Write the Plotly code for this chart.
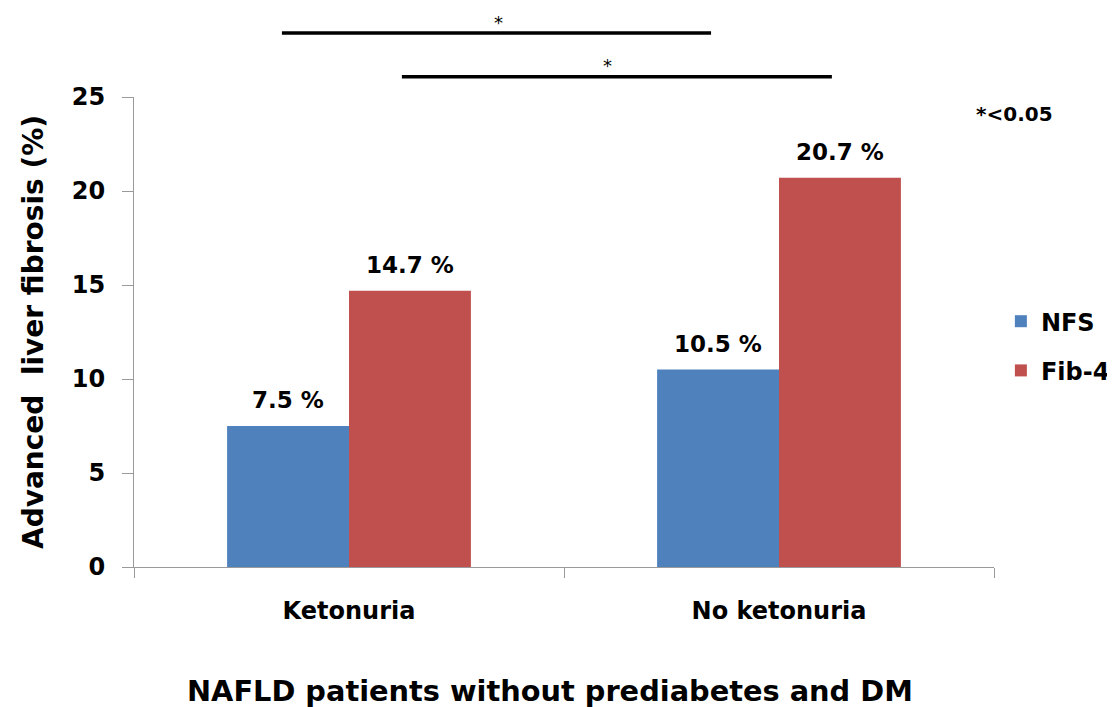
import plotly.graph_objects as go

categories = ["Ketonuria", "No ketonuria"]
nfs_values = [7.5, 10.5]
fib4_values = [14.7, 20.7]
series_names = ["NFS", "Fib-4"]
y_ticks = [0, 5, 10, 15, 20, 25]
x_title = "NAFLD patients without prediabetes and DM"
y_title = "Advanced\u00a0 liver fibrosis (%)"

FONT = "DejaVu Sans"
BLUE = "#4F81BD"
RED = "#C0504D"
AXIS = "#9a9a9a"
BARGAP = 0.433
half = (1 - BARGAP) / 2  # width of one bar in category units
offsets = [-half / 2, half / 2]

fig = go.Figure()
for i, (name, vals, col) in enumerate([(series_names[0], nfs_values, BLUE),
                                        (series_names[1], fib4_values, RED)]):
    fig.add_trace(go.Bar(x=categories, y=vals, name=name, legendgroup=f"g{i}",
                         marker=dict(color=col, line=dict(width=0))))

# value labels above bars
for si, vals in enumerate([nfs_values, fib4_values]):
    for ci, v in enumerate(vals):
        fig.add_annotation(x=ci + offsets[si], y=v, xref="x", yref="y", text=f"<b>{v} %</b>",
                           showarrow=False, yanchor="bottom", yshift=11,
                           font=dict(family=FONT, size=23, color="black"))

# significance bars (in category units): x0, x1, line y, star x, star y
sig_lines = [(-0.156, 0.842, 1.136, 0.347, 1.186), (0.123, 1.123, 1.043, 0.60, 1.093)]
for x0, x1, yl, xs, ys in sig_lines:
    fig.add_shape(type="line", xref="x", yref="paper", x0=x0, x1=x1, y0=yl, y1=yl,
                  line=dict(color="black", width=3.5))
    fig.add_annotation(x=xs, y=ys, xref="x", yref="paper", text="*", showarrow=False,
                       font=dict(family=FONT, size=18, color="black"))

fig.add_annotation(x=0.977, y=0.964, xref="paper", yref="paper", text="<b>*<0.05</b>",
                   showarrow=False, xanchor="left", yanchor="middle",
                   font=dict(family=FONT, size=20, color="black"))

# x-axis title (placed as in the reference, slightly left of the axis centre)
fig.add_annotation(x=0.484, y=-0.263, xref="paper", yref="paper", text=f"<b>{x_title}</b>",
                   showarrow=False, xanchor="center", yanchor="middle",
                   font=dict(family=FONT, size=28.8, color="black"))

fig.update_layout(
    width=1115, height=707,
    margin=dict(l=126, r=129, t=89, b=148, autoexpand=False),
    plot_bgcolor="white", paper_bgcolor="white",
    barmode="group", bargap=BARGAP, bargroupgap=0,
    font=dict(family=FONT, color="black"),
    legend=dict(x=1.008, y=0.47, xanchor="left", yanchor="middle",
                font=dict(family=FONT, size=24, color="black", weight="bold"),
                bgcolor="rgba(0,0,0,0)", itemwidth=30, tracegroupgap=15,
                traceorder="grouped"),
    xaxis=dict(
        showline=True, linecolor=AXIS, linewidth=1,
        ticks="outside", tickson="boundaries", ticklen=10, tickcolor=AXIS,
        range=[-0.5, 1.5],
        tickfont=dict(family=FONT, size=24, color="black", weight="bold"),
        ticklabelstandoff=22,
        showgrid=False,
    ),
    yaxis=dict(
        range=[0, 25], tickvals=y_ticks,
        showline=True, linecolor=AXIS, linewidth=1,
        ticks="outside", ticklen=11, tickcolor=AXIS,
        tickfont=dict(family=FONT, size=24, color="black", weight="bold"),
        ticklabelstandoff=12,
        title=dict(text=y_title,
                   font=dict(family=FONT, size=28, color="black", weight="bold"), standoff=19),
        showgrid=False, zeroline=False,
    ),
)

fig.write_html("out.html")
